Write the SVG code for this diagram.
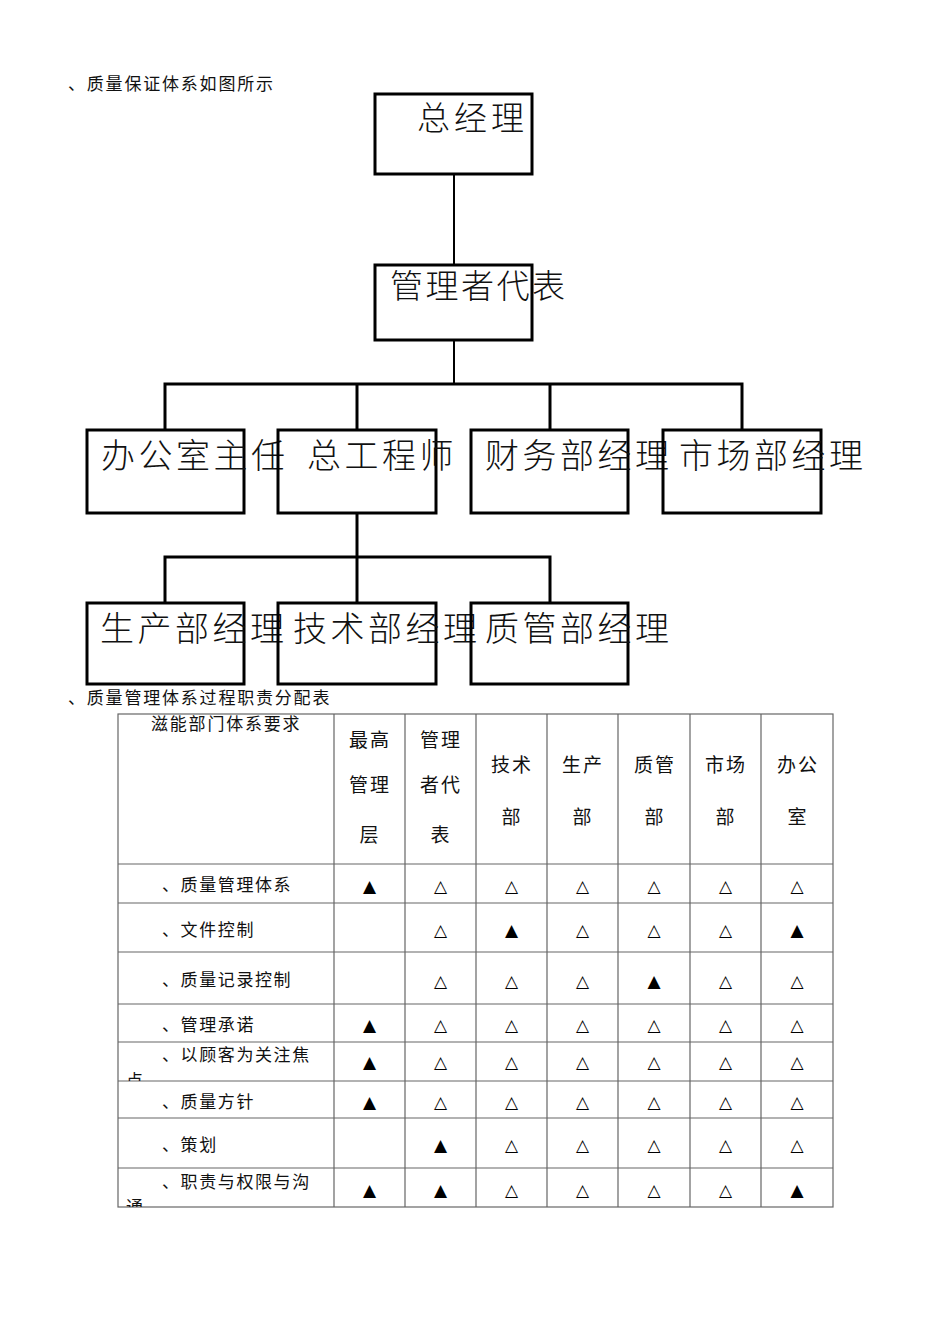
<svg xmlns="http://www.w3.org/2000/svg" width="950" height="1344" viewBox="0 0 950 1344">
<style>
.bg{fill:#fff}
.box{fill:none;stroke:#000;stroke-width:3}
.con{fill:none;stroke:#000;stroke-width:3}
.big{font-family:"Noto Sans CJK SC",sans-serif;font-size:34px;letter-spacing:3.5px;fill:#111;font-weight:300}
.cap{font-family:"Noto Sans CJK SC",sans-serif;font-size:17px;letter-spacing:1.8px;fill:#111}
.hd{font-family:"Noto Sans CJK SC",sans-serif;font-size:19px;letter-spacing:2px;fill:#111;text-anchor:middle}
.row{font-family:"Noto Sans CJK SC",sans-serif;font-size:17px;letter-spacing:1.6px;fill:#111}
.sym{font-family:"DejaVu Sans",sans-serif;font-size:17px;fill:#000;text-anchor:middle}
.grid{stroke:#666;stroke-width:1.2;fill:none}
</style>
<defs>
<clipPath id="c5"><rect x="118" y="1042" width="216" height="39"/></clipPath>
<clipPath id="c8"><rect x="118" y="1168" width="216" height="39"/></clipPath>
</defs>
<rect class="bg" x="0" y="0" width="950" height="1344"/>
<text class="cap" x="68" y="90">、质量保证体系如图所示</text>

<g id="connectors">
<line class="con" x1="454" y1="174" x2="454" y2="265" style="stroke-width:2"/>
<line class="con" x1="454" y1="340" x2="454" y2="384" style="stroke-width:2"/>
<polyline class="con" points="165,430 165,384 742,384 742,430"/>
<line class="con" x1="357" y1="384" x2="357" y2="430"/>
<line class="con" x1="550" y1="384" x2="550" y2="430"/>
<line class="con" x1="357" y1="513" x2="357" y2="603"/>
<polyline class="con" points="165,603 165,557 550,557 550,603"/>
</g>

<g id="n-gm"><rect class="box" x="375" y="94" width="157" height="80"/><text class="big" x="417" y="130" style="font-size:33px;letter-spacing:4px">总经理</text></g>
<g id="n-rep"><rect class="box" x="375" y="265" width="157" height="75"/><text class="big" x="390" y="298" style="font-size:33px;letter-spacing:2.5px">管理者代表</text></g>
<g id="n-office"><rect class="box" x="87" y="430" width="157" height="83"/><text class="big" x="101" y="468">办公室主任</text></g>
<g id="n-chief"><rect class="box" x="278" y="430" width="158" height="83"/><text class="big" x="307" y="468">总工程师</text></g>
<g id="n-fin"><rect class="box" x="471" y="430" width="157" height="83"/><text class="big" x="485" y="468">财务部经理</text></g>
<g id="n-mkt"><rect class="box" x="663" y="430" width="158" height="83"/><text class="big" x="679" y="468">市场部经理</text></g>
<g id="n-prod"><rect class="box" x="87" y="603" width="157" height="81"/><text class="big" x="100" y="641">生产部经理</text></g>
<g id="n-tech"><rect class="box" x="278" y="603" width="158" height="81"/><text class="big" x="293" y="641">技术部经理</text></g>
<g id="n-qc"><rect class="box" x="471" y="603" width="157" height="81"/><text class="big" x="485" y="641">质管部经理</text></g>

<text class="cap" x="68" y="704">、质量管理体系过程职责分配表</text>

<g id="table">
<rect class="grid" x="118" y="714" width="715" height="493"/>
<path class="grid" d="M334 714V1207M405 714V1207M476 714V1207M547 714V1207M618 714V1207M690 714V1207M761 714V1207"/>
<path class="grid" d="M118 864H833M118 903H833M118 952H833M118 1004H833M118 1042H833M118 1081H833M118 1118H833M118 1168H833"/>
<text class="cap" x="151" y="730">滋能部门体系要求</text>
<text class="hd" x="370" y="747">最高</text><text class="hd" x="370" y="792">管理</text><text class="hd" x="370" y="842">层</text>
<text class="hd" x="441" y="747">管理</text><text class="hd" x="441" y="792">者代</text><text class="hd" x="441" y="842">表</text>
<text class="hd" x="512" y="772">技术</text><text class="hd" x="512" y="824">部</text>
<text class="hd" x="583" y="772">生产</text><text class="hd" x="583" y="824">部</text>
<text class="hd" x="655" y="772">质管</text><text class="hd" x="655" y="824">部</text>
<text class="hd" x="726" y="772">市场</text><text class="hd" x="726" y="824">部</text>
<text class="hd" x="798" y="772">办公</text><text class="hd" x="798" y="824">室</text>

<text class="row" x="162" y="891">、质量管理体系</text>
<text class="row" x="162" y="936">、文件控制</text>
<text class="row" x="162" y="986">、质量记录控制</text>
<text class="row" x="162" y="1031">、管理承诺</text>
<text class="row" x="162" y="1061">、以顾客为关注焦</text>
<text class="row" x="126" y="1087" clip-path="url(#c5)">点</text>
<text class="row" x="162" y="1108">、质量方针</text>
<text class="row" x="162" y="1151">、策划</text>
<text class="row" x="162" y="1188">、职责与权限与沟</text>
<text class="row" x="126" y="1213" clip-path="url(#c8)">通</text>

<g class="sym">
<text x="369.5" y="892">▲</text><text x="440.5" y="892">△</text><text x="511.5" y="892">△</text><text x="582.5" y="892">△</text><text x="654" y="892">△</text><text x="725.5" y="892">△</text><text x="797" y="892">△</text>
<text x="440.5" y="936">△</text><text x="511.5" y="936">▲</text><text x="582.5" y="936">△</text><text x="654" y="936">△</text><text x="725.5" y="936">△</text><text x="797" y="936">▲</text>
<text x="440.5" y="987">△</text><text x="511.5" y="987">△</text><text x="582.5" y="987">△</text><text x="654" y="987">▲</text><text x="725.5" y="987">△</text><text x="797" y="987">△</text>
<text x="369.5" y="1031">▲</text><text x="440.5" y="1031">△</text><text x="511.5" y="1031">△</text><text x="582.5" y="1031">△</text><text x="654" y="1031">△</text><text x="725.5" y="1031">△</text><text x="797" y="1031">△</text>
<text x="369.5" y="1068">▲</text><text x="440.5" y="1068">△</text><text x="511.5" y="1068">△</text><text x="582.5" y="1068">△</text><text x="654" y="1068">△</text><text x="725.5" y="1068">△</text><text x="797" y="1068">△</text>
<text x="369.5" y="1108">▲</text><text x="440.5" y="1108">△</text><text x="511.5" y="1108">△</text><text x="582.5" y="1108">△</text><text x="654" y="1108">△</text><text x="725.5" y="1108">△</text><text x="797" y="1108">△</text>
<text x="440.5" y="1151">▲</text><text x="511.5" y="1151">△</text><text x="582.5" y="1151">△</text><text x="654" y="1151">△</text><text x="725.5" y="1151">△</text><text x="797" y="1151">△</text>
<text x="369.5" y="1196">▲</text><text x="440.5" y="1196">▲</text><text x="511.5" y="1196">△</text><text x="582.5" y="1196">△</text><text x="654" y="1196">△</text><text x="725.5" y="1196">△</text><text x="797" y="1196">▲</text>
</g>
</g>
</svg>
